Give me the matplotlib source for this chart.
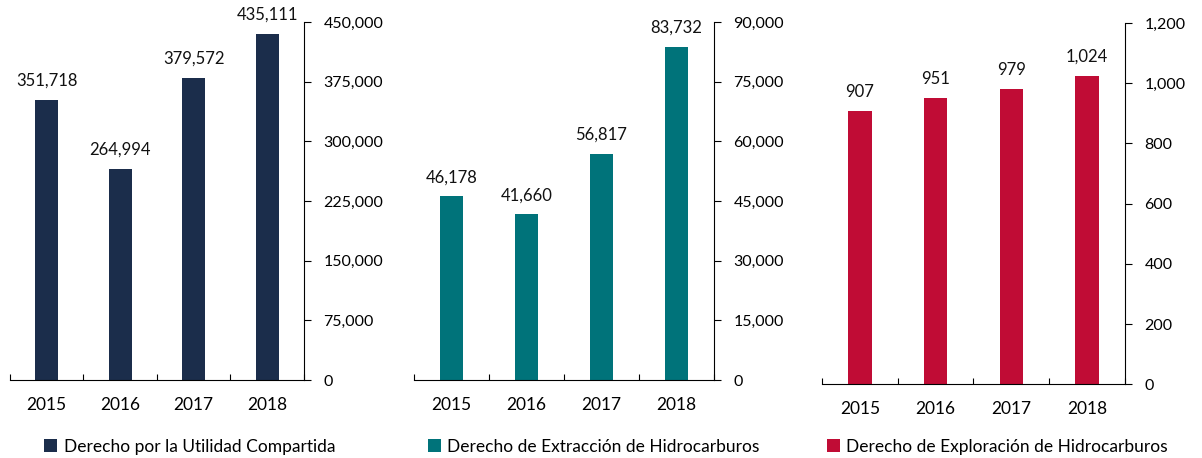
import matplotlib.pyplot as plt
import numpy as np

plt.rcParams['font.family'] = ['Lato', 'DejaVu Sans']

years = ['2015', '2016', '2017', '2018']
utilidad = [351718, 264994, 379572, 435111]
extraccion = [46178, 41660, 56817, 83732]
exploracion = [907, 951, 979, 1024]

panels = [
    (utilidad, 'Derecho por la Utilidad Compartida', '#1b2d4b', 450000, 75000,
     [0.0083, 0.170, 0.2446, 0.782], 0.037),
    (extraccion, 'Derecho de Extracción de Hidrocarburos', '#00737a', 90000, 15000,
     [0.3444, 0.170, 0.2496, 0.782], 0.356),
    (exploracion, 'Derecho de Exploración de Hidrocarburos', '#c00c35', 1200, 200,
     [0.6839, 0.161, 0.2520, 0.789], 0.688),
]

fig = plt.figure(figsize=(12.02, 4.58), dpi=100)
x = np.arange(len(years))
for vals, label, color, ymax, step, rect, legx in panels:
    ax = fig.add_axes(rect)
    bars = ax.bar(x, vals, width=0.31, color=color)
    for xi, v in zip(x, vals):
        ax.annotate(f'{v:,}', (xi, v), xytext=(0, 8), textcoords='offset points',
                    ha='center', va='bottom', fontsize=12, color='#111111')
    ax.set_xlim(-0.5, 3.5)
    ax.set_ylim(0, ymax)
    ax.yaxis.tick_right()
    ticks = np.arange(0, ymax + step, step)
    ax.set_yticks(ticks)
    ax.set_yticklabels([f'{int(t):,}' for t in ticks])
    ax.tick_params(axis='y', direction='out', length=5, pad=9, labelsize=11.5)
    ax.set_xticks(np.arange(-0.5, 4, 1))
    ax.set_xticklabels([])
    ax.set_xticks(x, minor=True)
    ax.set_xticklabels(years, minor=True)
    ax.tick_params(axis='x', which='major', direction='in', length=4)
    ax.tick_params(axis='x', which='minor', length=0, pad=12, labelsize=12.5)
    for s in ['top', 'left']:
        ax.spines[s].set_visible(False)
    fig.legend([bars], [label], loc='center left', bbox_to_anchor=(legx, 0.025),
               frameon=False, fontsize=12.5, handlelength=0.75, handleheight=0.75,
               handletextpad=0.35, borderaxespad=0, borderpad=0)

plt.savefig('out.png', dpi=100)
plt.close()
